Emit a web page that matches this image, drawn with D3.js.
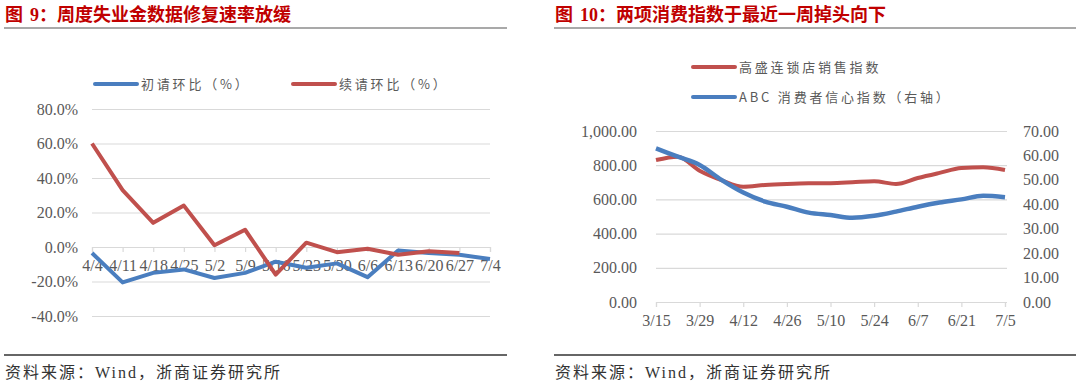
<!DOCTYPE html>
<html>
<head>
<meta charset="utf-8">
<script src="https://cdn.jsdelivr.net/npm/d3@7"></script>
<style>
  body { margin: 0; background: #fff; }
  svg { display: block; }
</style>
</head>
<body>
<svg id="chart" width="1080" height="386"></svg>
<script>
// ---- left chart data: weekly jobless claims, week-on-week change (%)
var weekCats = ["4/4", "4/11", "4/18", "4/25", "5/2", "5/9", "5/16", "5/23", "5/30", "6/6", "6/13", "6/20", "6/27", "7/4"];
var initialClaims = [-3.5, -20.5, -15, -13, -18, -15, -8.5, -12, -9.5, -17.5, -2, -3.5, -4.5, -7];
var continuingClaims = [60, 33, 14, 24, 1, 10, -16, 2.5, -3, -1, -4.5, -2.5, -3.5, null];
var leftTicks = [-40, -20, 0, 20, 40, 60, 80];

// ---- right chart data: two consumer indices, weekly
var idxDates = ["3/15", "3/22", "3/29", "4/5", "4/12", "4/19", "4/26", "5/3", "5/10", "5/17", "5/24", "5/31", "6/7", "6/14", "6/21", "6/28", "7/5"];
var gsSales = [830, 850, 768, 713, 674, 684, 690, 694, 695, 700, 706, 690, 725, 755, 783, 788, 772];
var abcComfort = [62.9, 59.5, 56.1, 50.0, 44.8, 41.1, 39.0, 36.6, 35.6, 34.5, 35.3, 37.0, 39.0, 40.7, 42.0, 43.5, 42.9];
var dateTicks = ["3/15", "3/29", "4/12", "4/26", "5/10", "5/24", "6/7", "6/21", "7/5"];
var salesTicks = [0, 200, 400, 600, 800, 1000];
var comfortTicks = [0, 10, 20, 30, 40, 50, 60, 70];

var blue = "#4a7ebf", red = "#c0504d", grid = "#d9d9d9", txt = "#595959";
var SERIF = "'Liberation Serif', 'DejaVu Serif', serif";
var CJK = "'Noto Sans CJK SC', sans-serif";
var svg = d3.select("#chart");

// frame: titles, rules, source lines
function panel(x0, x1, num, title) {
  var t = svg.append("text")
      .attr("x", x0 + 1).attr("y", 21)
      .attr("font-size", 18).attr("font-weight", "bold").attr("fill", "#c00000")
      .style("font-family", CJK);
  t.append("tspan").text("图");
  t.append("tspan").attr("dx", 7).style("font-family", SERIF).text(num);
  t.append("tspan").text("：" + title);
  svg.append("line").attr("x1", x0).attr("x2", x1).attr("y1", 28).attr("y2", 28)
      .attr("stroke", "#8c8c8c").attr("stroke-width", 1.5);
  svg.append("line").attr("x1", x0).attr("x2", x1).attr("y1", 355).attr("y2", 355)
      .attr("stroke", "#333").attr("stroke-width", 1.5);
  svg.append("text")
      .attr("x", x0 + 1).attr("y", 378)
      .attr("font-size", 16).attr("letter-spacing", 2).attr("fill", "#333")
      .style("font-family", SERIF + ", " + CJK)
      .text("资料来源：Wind，浙商证券研究所");
}
panel(4, 507, "9", "周度失业金数据修复速率放缓");
panel(554, 1076, "10", "两项消费指数于最近一周掉头向下");

function legendItem(g, x, y, color, label) {
  g.append("line").attr("x1", x).attr("x2", x + 42).attr("y1", y).attr("y2", y)
      .attr("stroke", color).attr("stroke-width", 4).attr("stroke-linecap", "round");
  g.append("text")
      .attr("x", x + 46).attr("y", y).attr("dy", "0.35em")
      .attr("font-size", 13).attr("letter-spacing", 2.8).attr("fill", txt)
      .style("font-family", CJK)
      .text(label);
}

function styleTicks(g) {
  g.selectAll("text").style("font-family", SERIF).attr("font-size", 16).attr("fill", txt);
}

// ================= left chart =================
var L = svg.append("g");
var x1 = d3.scalePoint().domain(weekCats).range([92, 490]);
var y1 = d3.scaleLinear().domain([-40, 80]).range([316, 109]);

L.append("g").attr("transform", "translate(92,0)")
    .call(d3.axisLeft(y1).tickValues(leftTicks).tickSize(-398).tickFormat(""))
    .call(function(g) {
      g.select(".domain").remove();
      g.selectAll("line").attr("stroke", grid).attr("stroke-width", 1.2);
    });
L.append("g").attr("transform", "translate(78,0)")
    .call(d3.axisLeft(y1).tickValues(leftTicks).tickSize(0).tickPadding(0)
      .tickFormat(function(d) { return d.toFixed(1) + "%"; }))
    .call(function(g) { g.select(".domain").remove(); styleTicks(g); });
L.append("g").attr("transform", "translate(0," + y1(0) + ")")
    .call(d3.axisBottom(x1).tickSize(5).tickPadding(8))
    .call(function(g) {
      g.select(".domain").attr("stroke", grid).attr("stroke-width", 1.2);
      g.selectAll("line").attr("stroke", grid).attr("stroke-width", 1.2);
      styleTicks(g);
    });

var line1 = d3.line()
    .defined(function(d) { return d[1] != null; })
    .x(function(d) { return x1(d[0]); })
    .y(function(d) { return y1(d[1]); });

[[initialClaims, blue], [continuingClaims, red]].forEach(function(s) {
  L.append("path")
      .datum(weekCats.map(function(c, i) { return [c, s[0][i]]; }))
      .attr("d", line1)
      .attr("fill", "none").attr("stroke", s[1]).attr("stroke-width", 4)
      .attr("stroke-linejoin", "round");
});
legendItem(L, 95, 84, blue, "初请环比（%）");
legendItem(L, 293, 84, red, "续请环比（%）");

// ================= right chart =================
var R = svg.append("g");
var parseD = function(s) { return d3.timeParse("%Y/%m/%d")("2020/" + s); };
var x2 = d3.scaleTime().domain([parseD("3/15"), parseD("7/5")]).range([656, 1005]);
var yL = d3.scaleLinear().domain([0, 1000]).range([302, 131]);
var yR = d3.scaleLinear().domain([0, 70]).range([302, 131]);

R.append("g").attr("transform", "translate(656,0)")
    .call(d3.axisLeft(yL).tickValues(salesTicks).tickSize(-351).tickFormat(""))
    .call(function(g) {
      g.select(".domain").remove();
      g.selectAll("line").attr("stroke", grid).attr("stroke-width", 1.2);
    });
R.append("g").attr("transform", "translate(637,0)")
    .call(d3.axisLeft(yL).tickValues(salesTicks).tickSize(0).tickPadding(0)
      .tickFormat(d3.format(",.2f")))
    .call(function(g) { g.select(".domain").remove(); styleTicks(g); });
R.append("g").attr("transform", "translate(1023,0)")
    .call(d3.axisRight(yR).tickValues(comfortTicks).tickSize(0).tickPadding(0)
      .tickFormat(d3.format(".2f")))
    .call(function(g) { g.select(".domain").remove(); styleTicks(g); });
R.append("g").attr("transform", "translate(0,302)")
    .call(d3.axisBottom(x2).tickValues(dateTicks.map(parseD)).tickSize(5).tickPadding(8)
      .tickFormat(d3.timeFormat("%-m/%-d")))
    .call(function(g) {
      g.select(".domain").attr("stroke", grid).attr("stroke-width", 1.2);
      g.selectAll("line").attr("stroke", grid).attr("stroke-width", 1.2);
      styleTicks(g);
    });

var dates = idxDates.map(parseD);
R.append("path")
    .datum(gsSales)
    .attr("d", d3.line().curve(d3.curveMonotoneX)
      .x(function(d, i) { return x2(dates[i]); })
      .y(function(d) { return yL(d); }))
    .attr("fill", "none").attr("stroke", red).attr("stroke-width", 4);
R.append("path")
    .datum(abcComfort)
    .attr("d", d3.line().curve(d3.curveMonotoneX)
      .x(function(d, i) { return x2(dates[i]); })
      .y(function(d) { return yR(d); }))
    .attr("fill", "none").attr("stroke", blue).attr("stroke-width", 4.5);

legendItem(R, 693, 67, red, "高盛连锁店销售指数");
legendItem(R, 693, 97, blue, "ABC 消费者信心指数（右轴）");
</script>
</body>
</html>
